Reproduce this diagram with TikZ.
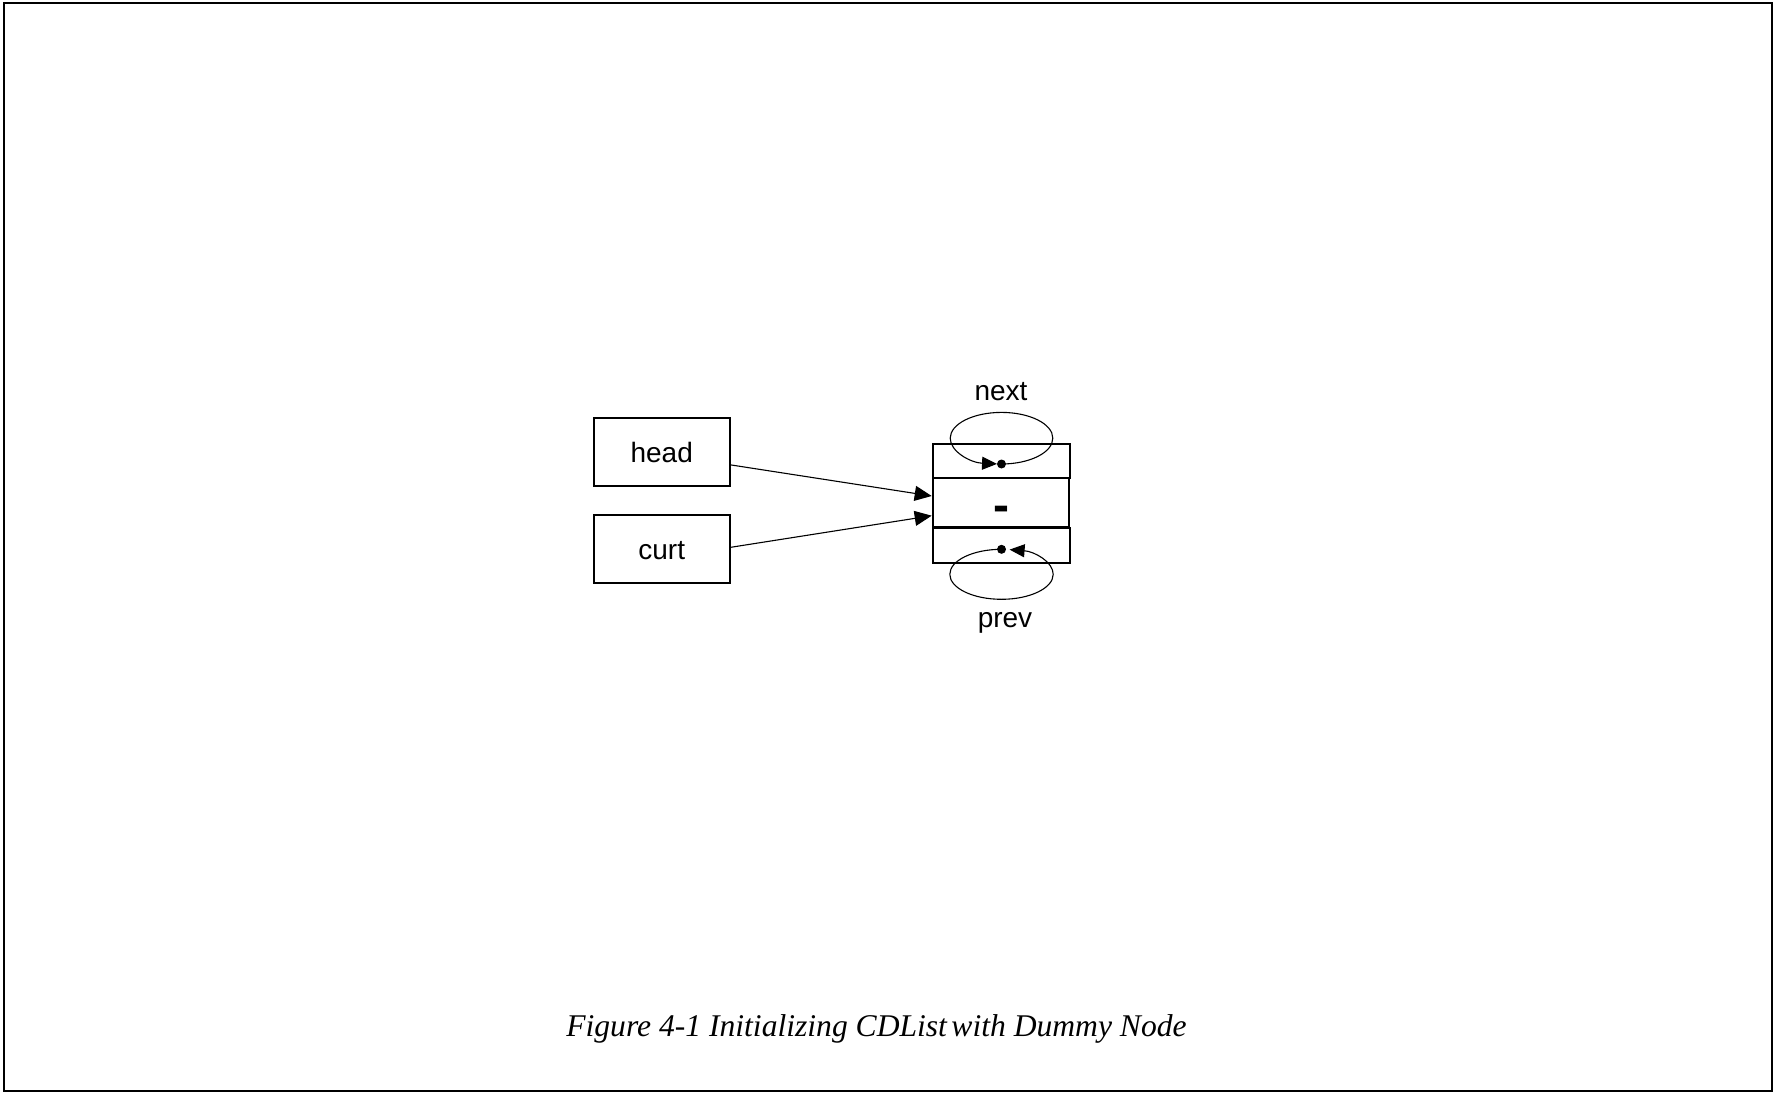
\documentclass[tikz,border=0pt]{standalone}
\usepackage{fontspec}
\setmainfont{Liberation Sans}
\newfontfamily\capfont{Liberation Serif}
\usetikzlibrary{arrows.meta,calc}
\tikzset{
  ptr/.style={draw, line width=2pt, minimum width=136pt, minimum height=68pt, inner sep=0pt,
              text height=22pt, text depth=0pt, font=\fontsize{28}{32}\selectfont},
  cell/.style={draw, line width=2pt, inner sep=0pt, minimum width=137pt},
  conn/.style={line width=1.1pt, -{Triangle[length=17pt,width=15pt]}},
  loop/.style={line width=1.1pt, -{Triangle[length=15pt,width=13pt]}},
  dot/.style={circle, fill=black, inner sep=0pt, minimum size=9pt},
  lbl/.style={font=\fontsize{28}{32}\selectfont, anchor=base, inner sep=0pt},
}
\begin{document}
\begin{tikzpicture}[x=1pt,y=-1pt]
\useasboundingbox (0,0) rectangle (1776,1094);
\draw[line width=2.6pt] (4,3) rectangle (1772,1091);

% pointer boxes
\node[ptr] (head) at (661.7,451.9) {head};
\node[ptr] (curt) at (661.7,548.5) {curt};

% dummy node cells
\node[cell, minimum height=33.7pt] (top) at (1001.3,460.8) {};
\node[cell, minimum width=136pt, minimum height=49.3pt] (mid) at (1000.7,502.3) {};
\node[cell, minimum height=34.4pt] (bot) at (1001.3,545.5) {};
\node[lbl, font=\fontsize{48}{52}\selectfont\bfseries] (dash) at (1001,521.5) {-};

% labels
\node[lbl] (nextl) at (1001,400) {next};
\node[lbl] (prevl) at (1005,627) {prev};

% dots
\node[dot] (d1) at (1001.5,464) {};
\node[dot] (d2) at (1001.5,549.3) {};

% self loops
\draw[loop] (d1.center) arc[start angle=90, end angle=-265, x radius=51.3, y radius=25.8];
\draw[loop] (d2.center) arc[start angle=-90, end angle=-441, x radius=51.7, y radius=25];

% connectors
\draw[conn] ($(head.east)+(0,13)$) -- ($(mid.west)+(0,-6.3)$);
\draw[conn] ($(curt.east)+(0,-1.2)$) -- ($(mid.west)+(0,13.4)$);

% caption
\node[anchor=base, inner sep=0pt, font=\capfont\itshape\fontsize{31.6}{36}\selectfont] (cap) at (876.5,1036.5)
  {Figure 4-1 Initializing CDList\hspace{0.14em}with Dummy Node};
\end{tikzpicture}
\end{document}
